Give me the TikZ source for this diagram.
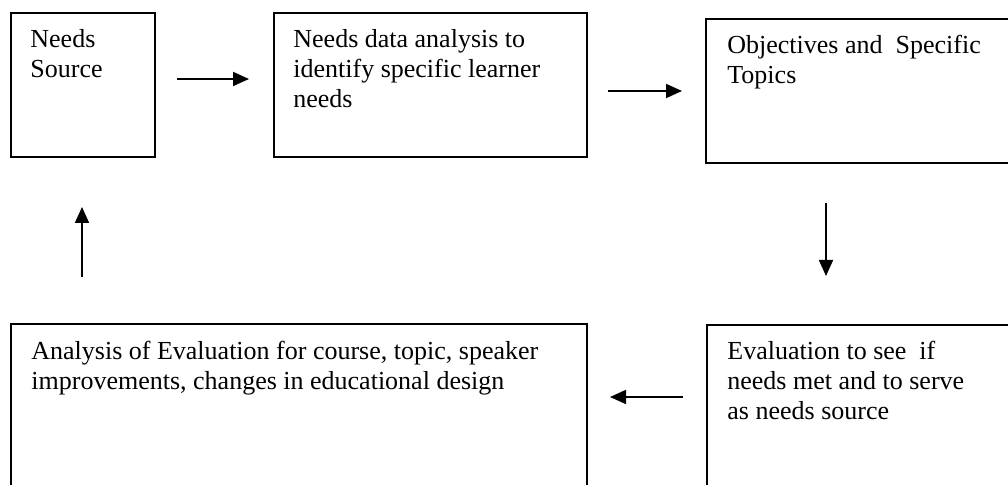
\documentclass[tikz,border=0pt]{standalone}
\usepackage{fontspec}
\setmainfont{Liberation Serif}
\usetikzlibrary{arrows.meta}
\begin{document}
\begin{tikzpicture}[x=0.5pt,y=-0.5pt,
  boxst/.style={draw, line width=1pt, inner sep=0pt, anchor=north west},
  txt/.style={anchor=north west, align=left, inner sep=0pt,
              font=\fontsize{13pt}{15pt}\selectfont},
  flow/.style={line width=0.9pt, -{Triangle[length=8pt,width=7pt]}}]
\useasboundingbox (0,0) rectangle (1008,485);
\clip (0,0) rectangle (1008,485);

% boxes
\node[boxst, minimum width=72pt,    minimum height=72pt]   (b1) at (10,12)  {};
\node[boxst, minimum width=156.5pt, minimum height=72pt]   (b2) at (273,12) {};
\node[boxst, minimum width=153.5pt, minimum height=72pt]   (b3) at (705,18) {};
\node[boxst, minimum width=288pt,   minimum height=83.5pt] (b4) at (10,323) {};
\node[boxst, minimum width=153pt,   minimum height=83pt]   (b5) at (706,324) {};

% box texts
\node[txt] (t1) at (30,26)   {\strut Needs\\Source};
\node[txt] (t2) at (293,26)  {\strut Needs data analysis to\\identify specific learner\\needs};
\node[txt] (t3) at (727,32)  {\strut Objectives and~~Specific\\Topics};
\node[txt] (t4) at (31,338)  {\strut Analysis of Evaluation for course, topic, speaker\\improvements, changes in educational design};
\node[txt] (t5) at (727,338) {\strut Evaluation to see~~if\\needs met and to serve\\as needs source};

% arrow end points
\coordinate (a1s) at (177,79);  \coordinate (a1e) at (249,79);
\coordinate (a2s) at (608,91);  \coordinate (a2e) at (682,91);
\coordinate (a3s) at (826,203); \coordinate (a3e) at (826,276);
\coordinate (a4s) at (683,397); \coordinate (a4e) at (610,397);
\coordinate (a5s) at (82,277);  \coordinate (a5e) at (82,207);

\draw[flow] (a1s) -- (a1e);
\draw[flow] (a2s) -- (a2e);
\draw[flow] (a3s) -- (a3e);
\draw[flow] (a4s) -- (a4e);
\draw[flow] (a5s) -- (a5e);
\end{tikzpicture}
\end{document}
